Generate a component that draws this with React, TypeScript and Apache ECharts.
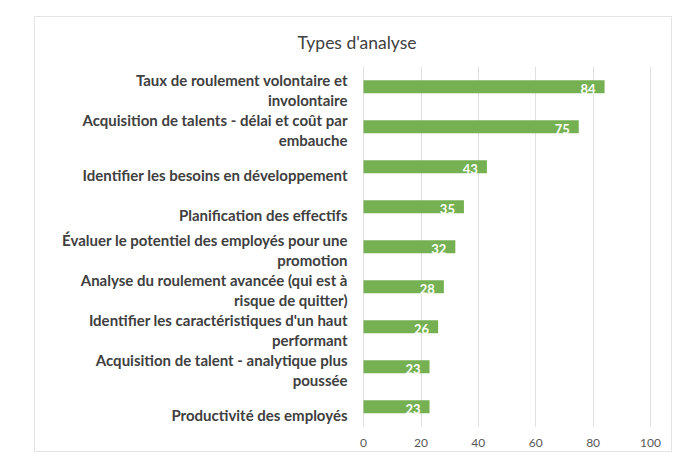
import React, { useEffect, useRef } from "react";
import * as echarts from "echarts";

const title = "Types d'analyse";
const categories = [
  "Taux de roulement volontaire et\ninvolontaire",
  "Acquisition de talents - délai et coût par\nembauche",
  "Identifier les besoins en développement",
  "Planification des effectifs",
  "Évaluer le potentiel des employés pour une\npromotion",
  "Analyse du roulement avancée (qui est à\nrisque de quitter)",
  "Identifier les caractéristiques d'un haut\nperformant",
  "Acquisition de talent - analytique plus\npoussée",
  "Productivité des employés",
];
const values = [84, 75, 43, 35, 32, 28, 26, 23, 23];
const xTicks = { min: 0, max: 100, interval: 20 };

export default function App() {
  const ref = useRef<HTMLDivElement>(null);
  useEffect(() => {
    if (!ref.current) return;
    const chart = echarts.init(ref.current, null, { renderer: "svg" });
    const font = "Lato, 'Open Sans', sans-serif";
    const labelStyle = {
      color: "#404040",
      fontSize: 15,
      fontWeight: "bold",
      lineHeight: 20,
      fontFamily: font,
      align: "right",
    };
    chart.setOption({
      animation: false,
      backgroundColor: "#ffffff",
      textStyle: { fontFamily: font },
      title: {
        text: title,
        left: 352,
        top: 28,
        textAlign: "center",
        textStyle: { fontSize: 17.5, fontWeight: "normal", color: "#404040", fontFamily: font },
      },
      graphic: [
        {
          type: "rect",
          shape: { x: 34.5, y: 16.5, width: 637, height: 435 },
          style: { fill: "none", stroke: "#e3e3e3", lineWidth: 1 },
          silent: true,
        },
      ],
      grid: { left: 363.5, right: 49.5, top: 66.7, bottom: 40.3, containLabel: false },
      xAxis: {
        type: "value",
        min: xTicks.min,
        max: xTicks.max,
        interval: xTicks.interval,
        axisLine: { show: false },
        axisTick: { show: false },
        axisLabel: { color: "#595959", fontSize: 12, margin: 10, fontFamily: font },
        splitLine: { show: true, lineStyle: { color: "#e0e0e0", width: 1 } },
      },
      yAxis: {
        type: "category",
        inverse: true,
        data: categories,
        axisLine: { show: false },
        axisTick: { show: false },
        axisLabel: {
          interval: 0,
          hideOverlap: false,
          margin: 16,
          align: "right",
          fontFamily: font,
          formatter: (v: string) => {
            const lines = v.split("\n");
            const spacer = lines.length > 1 ? "{s2| }" : "{s1| }";
            return [spacer].concat(lines.map((l) => "{a|" + l + "}")).join("\n");
          },
          rich: {
            a: labelStyle,
            s1: { fontSize: 1, lineHeight: 16 },
            s2: { fontSize: 1, lineHeight: 6.6 },
          },
        },
      },
      series: [
        {
          type: "bar",
          data: values,
          barWidth: 13,
          itemStyle: { color: "#75B152" },
          label: {
            show: true,
            position: "insideRight",
            distance: 9,
            offset: [0, 2],
            color: "#ffffff",
            fontWeight: "bold",
            fontSize: 13,
            fontFamily: font,
          },
        },
      ],
    });
    return () => chart.dispose();
  }, []);
  return (
    <div
      ref={ref}
      style={{ position: "absolute", left: 0, top: 0, width: 700, height: 467 }}
    />
  );
}
